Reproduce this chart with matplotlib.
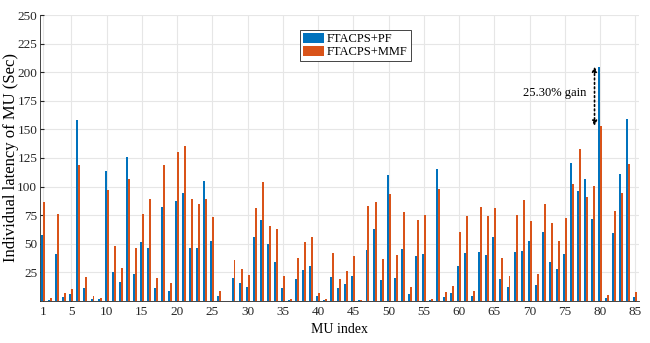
import numpy as np
import matplotlib
matplotlib.use("Agg")
import matplotlib.pyplot as plt

# latency per MU (sec)
mu_index = np.arange(1, 86)
pf = [57.4, 1.0, 40.8, 3.5, 5.8, 158.0, 10.8, 1.7, 1.5, 114.0,
      25.4, 16.3, 125.7, 23.3, 51.6, 46.4, 11.1, 82.2, 8.5, 87.2,
      94.5, 45.8, 45.8, 104.7, 52.5, 4.4, 0.0, 20.1, 15.2, 12.2,
      55.4, 70.8, 49.9, 34.1, 11.4, 0.6, 19.2, 27.1, 30.6, 3.8,
      0.6, 20.7, 11.1, 14.6, 21.6, 0.6, 44.6, 62.7, 18.4, 109.9,
      20.1, 45.5, 5.8, 39.4, 40.8, 0.9, 114.9, 3.5, 6.7, 30.3,
      41.4, 4.1, 42.9, 39.7, 56.0, 19.2, 12.5, 42.9, 43.4, 52.5,
      13.4, 60.1, 34.1, 27.4, 41.1, 121.0, 96.5, 106.4, 72.0, 205.0,
      2.3, 59.5, 111.1, 159.5, 3.5]
mmf = [86.6, 2.3, 75.8, 6.4, 9.9, 118.7, 21.0, 4.1, 2.6, 96.8,
       47.8, 28.3, 106.7, 46.4, 75.8, 89.2, 19.8, 118.4, 16.0, 130.6,
       135.3, 89.5, 85.1, 88.9, 72.9, 9.0, 0.0, 35.3, 27.4, 22.4,
       81.6, 103.8, 65.6, 62.4, 21.9, 1.7, 37.3, 51.3, 55.4, 7.0,
       1.5, 41.7, 19.5, 25.7, 39.1, 0.6, 82.8, 86.3, 37.0, 93.3,
       39.9, 77.8, 12.0, 70.6, 75.2, 1.7, 97.4, 7.6, 12.8, 60.6,
       74.3, 8.2, 82.2, 74.1, 80.8, 37.3, 21.9, 74.9, 87.8, 70.0,
       23.3, 84.8, 67.9, 52.5, 72.3, 102.6, 132.7, 90.4, 100.6, 153.1,
       5.2, 79.0, 94.5, 119.5, 7.3]
x_ticks = [1, 5, 10, 15, 20, 25, 30, 35, 40, 45, 50, 55, 60, 65, 70, 75, 80, 85]
y_ticks = [25, 50, 75, 100, 125, 150, 175, 200, 225, 250]
gain_label = '25.30% gain'

plt.rcParams['font.family'] = ['Liberation Serif', 'DejaVu Serif']
plt.rcParams['font.size'] = 10

fig = plt.figure(figsize=(6.5, 3.43), dpi=100)
ax = fig.add_axes([0.0615, 0.123, 0.9215, 0.833])

w = 0.28
ax.bar(mu_index - w / 2, pf, width=w, color='#0072BD', label='FTACPS+PF', zorder=3)
ax.bar(mu_index + w / 2, mmf, width=w, color='#D95319', label='FTACPS+MMF', zorder=3)

# gain annotation at MU 80
ax.annotate('', xy=(79.2, pf[79]), xytext=(79.2, mmf[79]),
            arrowprops=dict(arrowstyle='<|-|>', linestyle=':', color='black',
                            lw=1.2, mutation_scale=7, shrinkA=0, shrinkB=0),
            zorder=4)
ax.text(78.0, 181.5, gain_label, ha='right', va='center', fontsize=9)

ax.set_xlim(0.55, 85.5)
ax.set_ylim(0, 250)
ax.set_xticks(x_ticks)
ax.set_yticks(y_ticks)
ax.tick_params(direction='in', length=3, colors='#262626', labelsize=9.5)
ax.tick_params(axis='y', pad=2)
ax.grid(True, color='#e6e6e6', linewidth=0.8, zorder=0)
for side in ['top', 'right']:
    ax.spines[side].set_visible(False)
for side in ['left', 'bottom']:
    ax.spines[side].set_color('#262626')
    ax.spines[side].set_linewidth(0.6)

ax.set_xlabel('MU index', fontsize=10, labelpad=4)
ax.set_ylabel('Individual latency of MU (Sec)', fontsize=12, va='center')
ax.yaxis.set_label_coords(-0.048, 0.5)

leg = ax.legend(loc='upper left', bbox_to_anchor=(0.434, 0.947), fancybox=False,
                edgecolor='#262626', framealpha=1, fontsize=9,
                handlelength=1.7, handleheight=0.8, handletextpad=0.2,
                borderpad=0.25, labelspacing=0.05, borderaxespad=0)
leg.get_frame().set_linewidth(0.6)

fig.savefig('out.png', dpi=100)
